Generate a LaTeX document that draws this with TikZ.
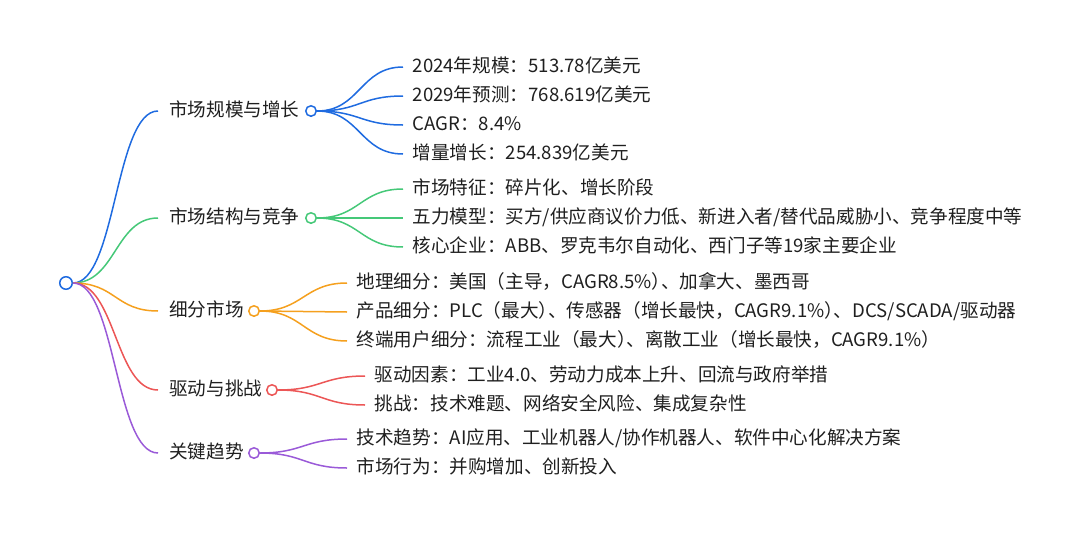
\documentclass[tikz,border=0pt]{standalone}
\usepackage{fontspec}
\setmainfont{Noto Sans CJK SC}
\usetikzlibrary{positioning}
\definecolor{ink}{HTML}{1F1F1F}
\definecolor{mblue}{HTML}{1F6BE0}
\definecolor{mgreen}{HTML}{45C878}
\definecolor{morange}{HTML}{F5A01E}
\definecolor{mred}{HTML}{EC5656}
\definecolor{mpurple}{HTML}{9A5AD8}
\newcommand{\rpc}{）\kern-0.5em}

\begin{document}
\begin{tikzpicture}[x=1pt,y=-1pt,
  every node/.style={font=\fontsize{18.6}{22}\selectfont,text=ink},
  cat/.style={anchor=west,inner ysep=0pt,inner xsep=11pt,text height=14pt,text depth=4pt},
  leaf/.style={anchor=west,inner ysep=0pt,inner xsep=9.5pt,text height=14pt,text depth=4pt},
  dot/.style={circle,draw=#1,fill=white,line width=1.5pt,minimum size=10.5pt,inner sep=0pt},
  br/.style={line width=1.5pt,#1}]
  \useasboundingbox (0,0) rectangle (1080,536);

  % root and main topics
  \node[dot=mblue,minimum size=12.5pt] (root) at (66,283) {};
  \node[cat] (scale) at (158,111) {市场规模与增长};
  \node[cat] (struct) at (158,218) {市场结构与竞争};
  \node[cat] (seg) at (158,311) {细分市场};
  \node[cat] (drive) at (158,390) {驱动与挑战};
  \node[cat] (trend) at (158,453) {关键趋势};
  \node[dot=mblue] (scaleC) at (311,111) {};
  \node[dot=mgreen] (structC) at (311,218) {};
  \node[dot=morange] (segC) at (254,311) {};
  \node[dot=mred] (driveC) at (272,390) {};
  \node[dot=mpurple] (trendC) at (254,453) {};

  \draw[br=mblue] (root.east) .. controls +(43,0) and +(-43,0) .. (scale.west);
  \draw[br=mgreen] (root.east) .. controls +(43,0) and +(-43,0) .. (struct.west);
  \draw[br=morange] (root.east) .. controls +(43,0) and +(-43,0) .. (seg.west);
  \draw[br=mred] (root.east) .. controls +(43,0) and +(-43,0) .. (drive.west);
  \draw[br=mpurple] (root.east) .. controls +(43,0) and +(-43,0) .. (trend.west);

  % market size
  \node[leaf] (s1) at (403,67) {2024年规模：513.78亿美元};
  \node[leaf] (s2) at (403,96) {2029年预测：768.619亿美元};
  \node[leaf] (s3) at (403,125) {CAGR：8.4\%};
  \node[leaf] (s4) at (403,154) {增量增长：254.839亿美元};
  \draw[br=mblue] (scaleC.east) .. controls +(43,0) and +(-43,0) .. (s1.west);
  \draw[br=mblue] (scaleC.east) .. controls +(43,0) and +(-43,0) .. (s2.west);
  \draw[br=mblue] (scaleC.east) .. controls +(43,0) and +(-43,0) .. (s3.west);
  \draw[br=mblue] (scaleC.east) .. controls +(43,0) and +(-43,0) .. (s4.west);

  % structure
  \node[leaf] (c1) at (403,189) {市场特征：碎片化、增长阶段};
  \node[leaf] (c2) at (403,218) {五力模型：买方/供应商议价力低、新进入者/替代品威胁小、竞争程度中等};
  \node[leaf] (c3) at (403,247) {核心企业：ABB、罗克韦尔自动化、西门子等19家主要企业};
  \draw[br=mgreen] (structC.east) .. controls +(43,0) and +(-43,0) .. (c1.west);
  \draw[br=mgreen] (structC.east) .. controls +(43,0) and +(-43,0) .. (c2.west);
  \draw[br=mgreen] (structC.east) .. controls +(43,0) and +(-43,0) .. (c3.west);

  % segments
  \node[leaf] (g1) at (347,283) {地理细分：美国（主导，CAGR8.5\%\rpc、加拿大、墨西哥};
  \node[leaf] (g2) at (347,312) {产品细分：PLC（最大\rpc、传感器（增长最快，CAGR9.1\%\rpc、DCS/SCADA/驱动器};
  \node[leaf] (g3) at (347,341) {终端用户细分：流程工业（最大\rpc、离散工业（增长最快，CAGR9.1\%）};
  \draw[br=morange] (segC.east) .. controls +(43,0) and +(-43,0) .. (g1.west);
  \draw[br=morange] (segC.east) .. controls +(43,0) and +(-43,0) .. (g2.west);
  \draw[br=morange] (segC.east) .. controls +(43,0) and +(-43,0) .. (g3.west);

  % drivers
  \node[leaf] (d1) at (365,376) {驱动因素：工业4.0、劳动力成本上升、回流与政府举措};
  \node[leaf] (d2) at (365,405) {挑战：技术难题、网络安全风险、集成复杂性};
  \draw[br=mred] (driveC.east) .. controls +(43,0) and +(-43,0) .. (d1.west);
  \draw[br=mred] (driveC.east) .. controls +(43,0) and +(-43,0) .. (d2.west);

  % trends
  \node[leaf] (t1) at (347,439) {技术趋势：AI应用、工业机器人/协作机器人、软件中心化解决方案};
  \node[leaf] (t2) at (347,468) {市场行为：并购增加、创新投入};
  \draw[br=mpurple] (trendC.east) .. controls +(43,0) and +(-43,0) .. (t1.west);
  \draw[br=mpurple] (trendC.east) .. controls +(43,0) and +(-43,0) .. (t2.west);
\end{tikzpicture}
\end{document}
